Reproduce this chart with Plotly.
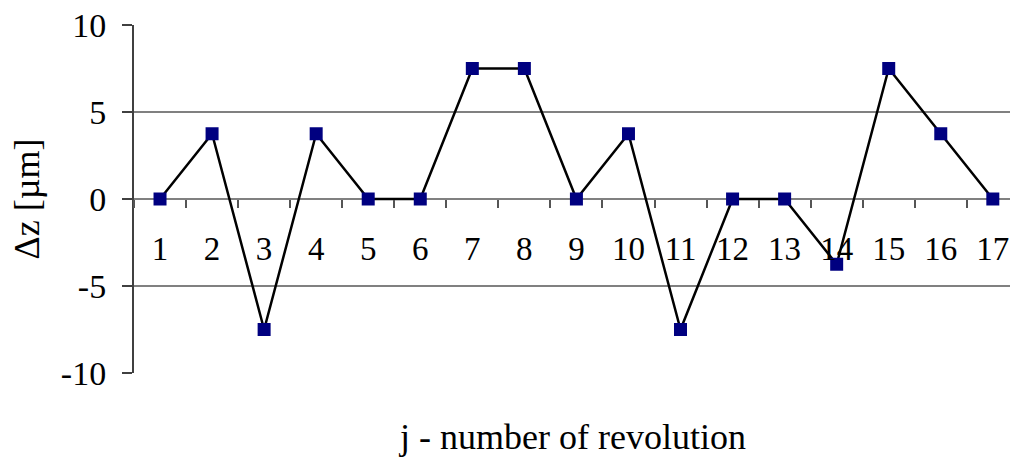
import plotly.graph_objects as go

# revolution number j and measured deviation dz [um]
revolutions = [str(j) for j in range(1, 18)]
dz_values = [0, 3.75, -7.5, 3.75, 0, 0, 7.5, 7.5, 0, 3.75, -7.5, 0, 0, -3.75, 7.5, 3.75, 0]
y_ticks = [-10, -5, 0, 5, 10]
y_tick_text = ["-10", "-5", "0", "5", "10"]

serif = "Liberation Serif"

fig = go.Figure()
fig.add_trace(go.Scatter(
    x=revolutions, y=dz_values, mode="lines+markers",
    line=dict(color="black", width=2.5),
    marker=dict(symbol="square", size=13, color="#000080"),
    cliponaxis=False,
))

fig.update_layout(
    width=1010, height=457,
    margin=dict(l=134, r=0, t=25, b=84),
    plot_bgcolor="white", paper_bgcolor="white",
    showlegend=False,
    font=dict(family=serif, color="black"),
    xaxis=dict(
        type="category", range=[-0.5, 16.33],
        anchor="free", position=0.5,
        showgrid=False, zeroline=False,
        showline=False,
        ticks="outside", tickson="boundaries", ticklen=8, tickwidth=1.5,
        tickcolor="#555555",
        ticklabelstandoff=27,
        tickfont=dict(size=33, family=serif),
    ),
    yaxis=dict(
        range=[-10, 10], tickvals=y_ticks, ticktext=y_tick_text,
        showgrid=True, gridcolor="#808080", gridwidth=2,
        zeroline=False,
        showline=True, linecolor="#404040", linewidth=2,
        ticks="outside", ticklen=10, tickwidth=2, tickcolor="#404040",
        ticklabelstandoff=9,
        tickfont=dict(size=34, family=serif),
        title=dict(text="Δz [µm]", font=dict(size=36, family=serif), standoff=10),
    ),
)

fig.add_annotation(
    text="j - number of revolution", xref="paper", yref="paper",
    x=0.5, y=-0.184, yanchor="middle", showarrow=False,
    font=dict(size=36, family=serif),
)

# page body margin would shift the figure inside the window
fig.write_html("out.html", config={"displayModeBar": False},
               post_script="document.body.style.margin = '0';")
